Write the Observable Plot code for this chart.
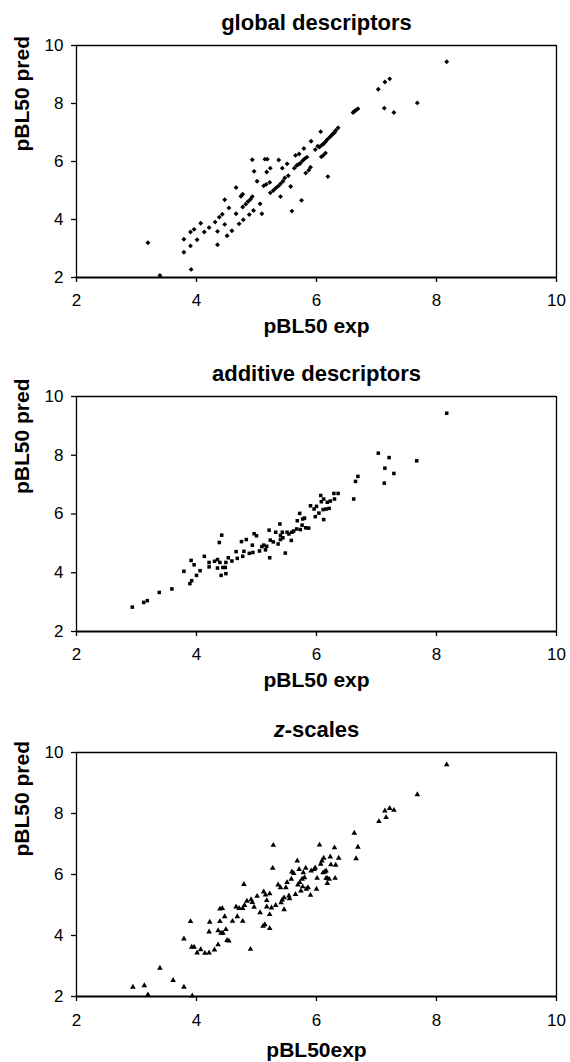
<!DOCTYPE html>
<html><head><meta charset="utf-8">
<script src="https://cdn.jsdelivr.net/npm/d3@7"></script>
<script src="https://cdn.jsdelivr.net/npm/@observablehq/plot@0.6"></script>
<style>
body{margin:0;background:#fff;}
#chart svg{display:block;}
</style></head><body><div id="chart"></div>
<script>
const tickValues = [2, 4, 6, 8, 10];
const titles = ["global descriptors", "additive descriptors", "z-scales"];
const xLabels = ["pBL50 exp", "pBL50 exp", "pBL50exp"];
const yLabel = "pBL50 pred";

const globalX = [3.19,3.39,3.79,3.79,3.90,3.90,3.96,4.01,3.91,4.07,
 4.13,4.21,4.31,4.35,4.35,4.38,4.43,4.47,4.47,4.51,
 4.54,4.59,4.66,4.66,4.71,4.74,4.77,4.77,4.78,4.82,
 4.88,4.90,4.93,4.95,4.96,5.06,5.09,4.93,5.01,5.12,
 5.14,5.17,5.18,5.22,5.23,5.23,5.28,5.32,5.37,5.40,
 5.40,5.43,5.44,5.47,5.51,5.53,5.57,5.59,5.63,5.65,
 5.67,5.71,5.73,5.75,5.77,5.79,5.82,5.84,5.87,5.91,
 5.90,5.98,6.02,6.07,6.08,6.11,6.12,6.15,6.18,6.19,
 6.22,6.27,6.32,6.36,6.61,6.65,6.69,7.03,7.13,7.14,
 7.22,7.29,7.68,8.17,
 5.16,5.70,5.80,6.05,6.09,6.15,6.25,6.30,5.36,4.86,6.63];
const globalY = [3.20,2.07,2.87,3.32,3.09,3.57,3.66,3.30,2.28,3.87,
 3.57,3.72,3.91,3.59,3.13,4.08,4.18,4.68,3.83,3.44,
 4.40,3.61,5.10,4.20,3.85,4.80,4.43,4.87,3.99,4.53,
 4.17,4.70,4.79,4.31,5.66,4.54,4.20,6.06,5.32,5.16,
 6.08,5.64,6.08,5.28,5.77,4.92,5.00,5.08,6.05,4.79,
 5.23,5.77,5.32,5.43,5.92,5.51,5.14,4.29,5.77,6.21,
 5.86,6.26,5.94,4.66,6.03,6.45,5.60,6.15,5.70,6.70,
 5.80,6.41,6.53,7.03,6.16,6.21,6.61,6.29,6.76,5.48,
 6.84,6.95,7.07,7.16,7.69,7.76,7.82,8.49,7.84,8.74,
 8.85,7.69,8.02,9.44,
 5.21,5.90,6.09,6.50,6.57,6.68,6.90,7.00,5.15,4.62,7.73];

const additiveX = [2.93,3.12,3.18,3.38,3.59,3.79,3.89,3.92,3.91,3.96,
 4.00,4.06,4.13,4.21,4.21,4.30,4.35,4.35,4.38,4.39,
 4.42,4.41,4.44,4.48,4.49,4.49,4.53,4.59,4.66,4.68,
 4.75,4.77,4.79,4.83,4.88,4.93,4.94,4.96,5.00,5.05,
 5.09,5.12,5.15,5.17,5.21,5.22,5.23,5.28,5.32,5.36,
 5.39,5.40,5.40,5.43,5.44,5.48,5.51,5.54,5.58,5.59,
 5.62,5.67,5.68,5.72,5.73,5.77,5.80,5.76,5.82,5.87,
 5.90,5.96,5.98,6.00,6.04,6.07,6.08,6.11,6.12,6.12,
 6.16,6.18,6.21,6.23,6.29,6.30,6.36,6.62,6.65,6.69,
 7.03,7.13,7.14,7.21,7.29,7.67,8.17];
const additiveY = [2.83,2.99,3.05,3.33,3.45,4.05,3.63,3.73,4.42,4.27,
 3.91,4.07,4.56,4.35,4.20,4.39,4.45,4.16,5.03,4.35,
 5.28,3.91,4.18,4.18,3.97,4.35,4.51,4.40,4.72,4.49,
 5.06,4.56,4.73,5.13,4.66,4.94,4.69,5.33,5.26,4.74,
 4.89,4.94,4.78,4.90,5.45,4.51,5.11,5.05,5.38,4.98,
 5.66,5.27,5.13,5.38,5.19,4.67,5.38,5.32,5.10,5.38,
 5.42,5.49,5.77,6.02,5.47,5.83,5.86,5.62,5.53,5.52,
 6.28,6.17,5.91,6.26,6.03,6.63,6.42,6.15,5.81,6.51,
 6.17,6.40,6.19,6.44,6.70,6.51,6.70,6.51,7.11,7.28,
 8.07,7.05,7.56,7.92,7.38,7.81,9.43];

const zscaleX = [2.94,3.13,3.19,3.39,3.61,3.79,3.93,3.79,3.90,3.92,
 3.96,4.01,4.07,4.14,4.21,4.22,4.21,4.30,4.36,4.39,
 4.36,4.41,4.44,4.39,4.43,4.47,4.49,4.51,4.54,4.60,
 4.66,4.68,4.71,4.77,4.77,4.79,4.80,4.84,4.90,4.91,
 4.93,4.96,5.01,5.06,5.11,5.14,5.12,5.15,5.17,5.17,
 5.22,5.22,5.22,5.25,5.27,5.28,5.32,5.36,5.40,5.41,
 5.43,5.46,5.46,5.49,5.51,5.54,5.55,5.58,5.59,5.62,
 5.65,5.68,5.69,5.71,5.72,5.74,5.76,5.77,5.78,5.80,
 5.82,5.83,5.86,5.90,5.91,5.96,5.98,6.00,6.01,6.05,
 6.07,6.09,6.11,6.12,6.14,6.16,6.16,6.18,6.18,6.21,
 6.23,6.24,6.30,6.31,6.32,6.37,6.63,6.66,6.69,7.04,
 7.14,7.16,7.22,7.29,7.68,8.17];
const zscaleY = [2.31,2.36,2.06,2.93,2.53,2.31,2.02,3.89,4.46,3.62,
 3.62,3.43,3.54,3.42,3.43,4.44,4.12,3.53,3.70,4.46,
 4.16,4.08,4.08,4.87,4.89,4.62,4.20,3.84,3.82,4.47,
 4.94,4.62,4.89,4.89,4.47,5.68,4.99,5.13,3.55,5.18,
 5.09,4.93,5.29,4.75,4.31,4.36,5.43,5.33,4.94,5.15,
 4.69,4.23,5.37,4.91,6.21,6.96,4.99,5.66,5.57,5.08,
 5.17,4.85,5.24,5.57,5.74,5.30,5.21,5.85,6.09,6.04,
 5.35,6.45,5.66,6.17,5.74,5.46,5.85,5.60,6.06,5.90,
 6.21,5.52,5.57,5.32,6.12,6.17,6.22,5.52,5.88,6.97,
 6.34,6.45,6.06,6.54,6.09,6.12,5.88,5.71,5.87,5.85,
 6.58,6.32,6.88,5.88,6.31,6.54,7.36,6.52,6.90,7.74,
 8.09,7.87,8.17,8.11,8.62,9.60];

const font = "'Liberation Sans', Arial, Helvetica, sans-serif";

function panel(cfg) {
  const data = cfg.xs.map((x, i) => ({x, y: cfg.ys[i]}));
  return Plot.plot({
    width: 570, height: cfg.height,
    marginLeft: 76, marginRight: 14, marginTop: cfg.mt, marginBottom: cfg.mb,
    style: {fontFamily: font, color: "black", background: "white", overflow: "visible"},
    x: {domain: [2, 10]},
    y: {domain: [2, 10]},
    marks: [
      Plot.ruleY([10], {stroke: "black", strokeWidth: 1.3}),
      Plot.ruleX([2, 10], {stroke: "black", strokeWidth: 1.3}),
      Plot.axisY({ticks: tickValues, tickSize: 5, tickPadding: 8, fontSize: 17, label: null, stroke: "black", strokeWidth: 1.3, tickFormat: d => String(d)}),
      Plot.axisX({ticks: tickValues, tickSize: 5, tickPadding: cfg.tp, fontSize: 17, label: null, stroke: "black", strokeWidth: 1.3, tickFormat: d => String(d)}),
      Plot.ruleY([2], {stroke: "black", strokeWidth: 2}),
      Plot.dot(data, {x: "x", y: "y", symbol: cfg.symbol, r: cfg.r, fill: "black", stroke: "none"}),
      Plot.text([cfg.title], {text: d => d, frameAnchor: "top", dy: -16, lineAnchor: "bottom", fontSize: 22, fontWeight: "bold", fill: "black"}),
      Plot.text([cfg.xLabel], {text: d => d, frameAnchor: "bottom", dy: cfg.xlDy, lineAnchor: "bottom", fontSize: 21, fontWeight: "bold", fill: "black"}),
      Plot.text([yLabel], {text: d => d, frameAnchor: "left", dx: -48, dy: cfg.ylDy, rotate: -90, lineAnchor: "bottom", fontSize: 21, fontWeight: "bold", fill: "black"})
    ]
  });
}

const chart = document.getElementById("chart");
chart.appendChild(panel({xs: globalX, ys: globalY, symbol: "diamond2", r: 2.2, title: titles[0], xLabel: xLabels[0],
  height: 355, mt: 45, mb: 78, tp: 11, xlDy: 55, ylDy: -10}));
chart.appendChild(panel({xs: additiveX, ys: additiveY, symbol: "square", r: 2, title: titles[1], xLabel: xLabels[1],
  height: 355, mt: 41, mb: 79, tp: 11, xlDy: 55, ylDy: -20}));
const p3 = panel({xs: zscaleX, ys: zscaleY, symbol: "triangle", r: 2.1, title: titles[2], xLabel: xLabels[2],
  height: 352, mt: 42, mb: 66, tp: 12, xlDy: 60, ylDy: -18});
chart.appendChild(p3);

d3.select(p3).selectAll("text").filter(function() { return this.textContent === titles[2]; })
  .each(function() {
    const t = d3.select(this);
    t.text(null);
    t.append("tspan").attr("font-style", "italic").text("z");
    t.append("tspan").text("-scales");
  });
</script></body></html>
